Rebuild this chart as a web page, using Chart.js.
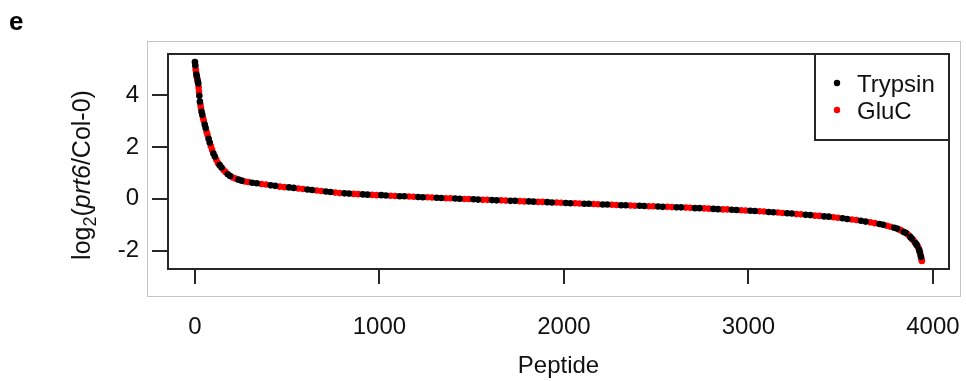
<!DOCTYPE html>
<html><head><meta charset="utf-8">
<script src="https://cdn.jsdelivr.net/npm/chart.js@4.4.0/dist/chart.umd.min.js"></script>
<style>html,body{margin:0;padding:0;background:#fff;}canvas{display:block;}</style>
</head><body>
<canvas id="c" width="966" height="381"></canvas>
<script>
// ---------------- data ----------------
const panelLabel = 'e';
const xTitle = 'Peptide';
const yTitleParts = [
  {t: 'log', s: 'n'}, {t: '2', s: 'sub'}, {t: '(', s: 'n'},
  {t: 'prt6', s: 'i'}, {t: '/Col-0)', s: 'n'}
];
const seriesNames = ['Trypsin', 'GluC'];
const seriesColors = ['#000000', '#ff0000'];
const xTickValues = [0, 1000, 2000, 3000, 4000];
const yTickValues = [-2, 0, 2, 4];

// [peptide rank, log2(prt6/Col-0)]
const trypsinPoints = [
  [0,5.28],[2,5.15],[8,4.80],[10,4.72],[16,4.52],[18,4.45],[24,3.98],[27,3.75],[36,3.36],[40,3.24],
  [53,2.87],[58,2.73],[74,2.32],[80,2.17],[100,1.75],[108,1.63],[134,1.30],[144,1.21],[178,0.95],[191,0.88],
  [236,0.74],[253,0.70],[310,0.62],[335,0.60],[410,0.52],[435,0.50],[510,0.44],[535,0.42],[610,0.36],[635,0.34],
  [710,0.28],[735,0.26],[810,0.21],[835,0.20],[910,0.17],[935,0.16],[1010,0.14],[1035,0.13],[1110,0.10],[1135,0.10],
  [1210,0.07],[1235,0.06],[1310,0.04],[1335,0.03],[1410,0.01],[1435,0.00],[1510,-0.02],[1535,-0.03],[1610,-0.05],[1635,-0.06],
  [1710,-0.08],[1735,-0.08],[1810,-0.10],[1835,-0.11],[1910,-0.13],[1935,-0.14],[2010,-0.16],[2035,-0.17],[2110,-0.19],[2135,-0.19],
  [2210,-0.22],[2235,-0.22],[2310,-0.25],[2335,-0.25],[2410,-0.27],[2435,-0.28],[2510,-0.30],[2535,-0.31],[2610,-0.33],[2635,-0.33],
  [2710,-0.36],[2735,-0.36],[2810,-0.39],[2835,-0.40],[2910,-0.42],[2935,-0.43],[3010,-0.46],[3035,-0.47],[3110,-0.51],[3135,-0.52],
  [3210,-0.56],[3235,-0.57],[3310,-0.62],[3335,-0.63],[3410,-0.68],[3435,-0.69],[3510,-0.75],[3535,-0.78],[3610,-0.85],[3635,-0.88],
  [3710,-0.97],[3730,-1.00],[3790,-1.12],[3805,-1.15],[3842,-1.28],[3852,-1.31],[3878,-1.48],[3886,-1.54],[3906,-1.72],[3912,-1.78],
  [3925,-1.97],[3929,-2.06],[3935,-2.24]
];
const glucPoints = [
  [4,5.00],[6,4.90],[12,4.65],[14,4.58],[20,4.30],[22,4.13],[30,3.62],[33,3.49],[44,3.12],[48,3.01],
  [63,2.59],[68,2.47],[86,2.04],[93,1.89],[116,1.51],[125,1.38],[155,1.11],[166,1.03],[205,0.82],[220,0.78],
  [271,0.67],[290,0.65],[360,0.57],[385,0.55],[460,0.47],[485,0.45],[560,0.40],[585,0.38],[660,0.32],[685,0.30],
  [760,0.24],[785,0.22],[860,0.19],[885,0.18],[960,0.15],[985,0.14],[1060,0.12],[1085,0.11],[1160,0.09],[1185,0.08],
  [1260,0.06],[1285,0.05],[1360,0.02],[1385,0.02],[1460,-0.01],[1485,-0.01],[1560,-0.04],[1585,-0.04],[1660,-0.06],[1685,-0.07],
  [1760,-0.09],[1785,-0.10],[1860,-0.12],[1885,-0.12],[1960,-0.14],[1985,-0.15],[2060,-0.17],[2085,-0.18],[2160,-0.20],[2185,-0.21],
  [2260,-0.23],[2285,-0.24],[2360,-0.26],[2385,-0.27],[2460,-0.29],[2485,-0.29],[2560,-0.31],[2585,-0.32],[2660,-0.34],[2685,-0.35],
  [2760,-0.37],[2785,-0.38],[2860,-0.41],[2885,-0.41],[2960,-0.44],[2985,-0.45],[3060,-0.48],[3085,-0.49],[3160,-0.53],[3185,-0.55],
  [3260,-0.59],[3285,-0.60],[3360,-0.65],[3385,-0.66],[3460,-0.71],[3485,-0.73],[3560,-0.80],[3585,-0.82],[3660,-0.91],[3685,-0.94],
  [3750,-1.04],[3770,-1.08],[3818,-1.19],[3830,-1.23],[3861,-1.36],[3870,-1.42],[3893,-1.59],[3900,-1.66],[3917,-1.83],[3921,-1.88],
  [3932,-2.15],[3938,-2.33],[3940,-2.40]
];

// ---------------- chart ----------------
const FONT = 'Arial, "Liberation Sans", Helvetica, sans-serif';
const TXT = '#111111';

const decorPlugin = {
  id: 'decor',
  beforeDraw(chart) {
    const ctx = chart.ctx;
    ctx.save();
    ctx.fillStyle = '#ffffff';
    ctx.fillRect(0, 0, chart.width, chart.height);
    ctx.strokeStyle = '#c4c4c4';
    ctx.lineWidth = 1;
    ctx.strokeRect(147.5, 41.5, 813, 255);
    ctx.restore();
  },
  afterDraw(chart) {
    const ctx = chart.ctx;
    const a = chart.chartArea;
    ctx.save();
    // plot box
    ctx.strokeStyle = '#262626';
    ctx.lineWidth = 2;
    ctx.strokeRect(a.left, a.top, a.right - a.left, a.bottom - a.top);
    // legend box (top-right, sharing box edges)
    const lx = 815, ly = a.top, lw = a.right - 815, lh = 86;
    ctx.strokeRect(lx, ly, lw, lh);
    ctx.font = '24px ' + FONT;
    ctx.textBaseline = 'middle';
    ctx.textAlign = 'left';
    chart.data.datasets.forEach((ds, i) => {
      const cy = ly + 29 + i * 27;
      ctx.fillStyle = ds.backgroundColor;
      ctx.beginPath();
      ctx.arc(837, cy, 3.2, 0, Math.PI * 2);
      ctx.fill();
      ctx.fillStyle = TXT;
      ctx.fillText(ds.label, 857, cy + 2);
    });
    // panel label
    ctx.font = 'bold 26px ' + FONT;
    ctx.textBaseline = 'alphabetic';
    ctx.fillStyle = '#000';
    ctx.fillText(panelLabel, 9, 30);
    // y-axis title with subscript and italic
    ctx.translate(90, 175);
    ctx.rotate(-Math.PI / 2);
    const fontFor = p => p.s === 'sub' ? '18px ' + FONT : (p.s === 'i' ? 'italic 25px ' + FONT : '25px ' + FONT);
    let total = 0;
    yTitleParts.forEach(p => { ctx.font = fontFor(p); total += ctx.measureText(p.t).width; });
    let x = -total / 2;
    ctx.fillStyle = TXT;
    yTitleParts.forEach(p => {
      ctx.font = fontFor(p);
      ctx.fillText(p.t, x, p.s === 'sub' ? 6 : 0);
      x += ctx.measureText(p.t).width;
    });
    ctx.restore();
  }
};

new Chart(document.getElementById('c'), {
  type: 'scatter',
  data: {
    datasets: [
      { label: seriesNames[0], data: trypsinPoints.map(p => ({x: p[0], y: p[1]})),
        backgroundColor: seriesColors[0], borderWidth: 0, pointRadius: 3.3, pointHoverRadius: 3.3 },
      { label: seriesNames[1], data: glucPoints.map(p => ({x: p[0], y: p[1]})),
        backgroundColor: seriesColors[1], borderWidth: 0, pointRadius: 3.3, pointHoverRadius: 3.3 }
    ]
  },
  options: {
    responsive: false,
    animation: false,
    events: [],
    layout: { padding: { top: 54, right: 17, bottom: 0, left: 0 } },
    plugins: { legend: { display: false }, tooltip: { enabled: false }, title: { display: false } },
    scales: {
      x: {
        type: 'linear', min: -146, max: 4087,
        afterBuildTicks: s => { s.ticks = xTickValues.map(v => ({value: v})); },
        afterFit: s => { s.height = 112; s.paddingLeft = 0; s.paddingRight = 0; },
        grid: { drawOnChartArea: false, drawTicks: true, tickLength: 15, lineWidth: 2, color: '#262626', tickColor: '#262626' },
        border: { display: false },
        ticks: { padding: 29, color: TXT, font: { size: 24, family: FONT }, maxRotation: 0, autoSkip: false,
                 callback: v => String(v) },
        title: { display: true, text: xTitle, color: TXT, font: { size: 24, family: FONT }, padding: { top: 0, bottom: 0 } }
      },
      y: {
        type: 'linear', min: -2.71, max: 5.59,
        afterBuildTicks: s => { s.ticks = yTickValues.map(v => ({value: v})); },
        afterFit: s => { s.width = 168; s.paddingTop = 0; s.paddingBottom = 0; },
        grid: { drawOnChartArea: false, drawTicks: true, tickLength: 16, lineWidth: 2, color: '#262626', tickColor: '#262626' },
        border: { display: false },
        ticks: { padding: 13, color: TXT, font: { size: 24, family: FONT }, autoSkip: false,
                 callback: v => String(v) }
      }
    }
  },
  plugins: [decorPlugin]
});
</script>
</body></html>
